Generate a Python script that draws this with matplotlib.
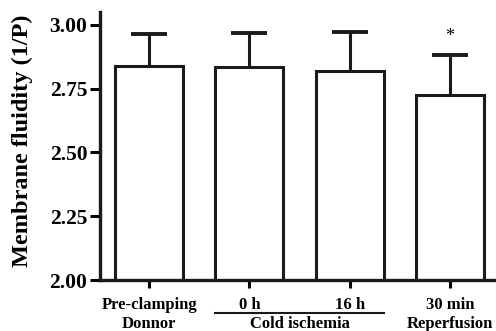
import matplotlib.pyplot as plt
import numpy as np

# data
categories = ["Pre-clamping", "0 h", "16 h", "30 min"]
groups = ["Donnor", "Cold ischemia", "Reperfusion"]
group_pos = [0, 1.5, 3]
means = [2.839, 2.833, 2.820, 2.724]
sd = [0.126, 0.133, 0.151, 0.158]

plt.rcParams["font.family"] = ["Liberation Serif", "DejaVu Serif"]
plt.rcParams["font.weight"] = "bold"

fig = plt.figure(figsize=(4.96, 3.31), dpi=100)
ax = fig.add_axes([100 / 496, 51 / 331, 396 / 496, 268 / 331])

x = np.arange(len(categories))
ax.bar(x, means, width=0.68, color="white", edgecolor="#1a1a1a", linewidth=2.2, zorder=2)
eb = ax.errorbar(x, means, yerr=[[0] * 4, sd], fmt="none", ecolor="#1a1a1a",
                 elinewidth=2.2, capsize=13, capthick=2.8, zorder=1)
# only the upper cap is shown
eb[1][0].set_visible(False)

ax.text(3, 2.955, "*", ha="center", va="center", fontsize=13, fontweight="normal")

ax.set_ylim(2.0, 3.05)
ax.set_xlim(-0.49, 3.46)
ax.set_yticks([2.00, 2.25, 2.50, 2.75, 3.00])
ax.set_yticklabels(["2.00", "2.25", "2.50", "2.75", "3.00"], fontsize=15.5, fontweight="bold")
ax.set_xticks(x)
ax.set_xticklabels(categories, fontsize=12, fontweight="bold")
ax.set_ylabel("Membrane fluidity (1/P)", fontsize=17.5, fontweight="bold")
ax.yaxis.set_label_coords(-0.168, 0.52)

for s in ["top", "right"]:
    ax.spines[s].set_visible(False)
for s in ["left", "bottom"]:
    ax.spines[s].set_linewidth(2.4)
    ax.spines[s].set_color("#1a1a1a")
ax.tick_params(axis="y", length=7, width=2.2, pad=2)
ax.tick_params(axis="x", length=6, width=2.2, pad=6)

tr = ax.get_xaxis_transform()
for gx, g in zip(group_pos, groups):
    ax.text(gx, -0.165, g, transform=tr, ha="center", va="center",
            fontsize=12, fontweight="bold")
ax.plot([0.66, 2.34], [-0.123, -0.123], transform=tr, color="#1a1a1a",
        linewidth=1.5, clip_on=False)

fig.savefig("out.png", dpi=100)
